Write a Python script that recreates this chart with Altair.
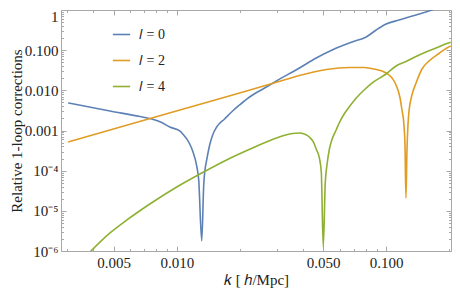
import altair as alt
import pandas as pd

# ---------------- data ----------------
series_names = ["𝑙 = 0", "𝑙 = 2", "𝑙 = 4"]
series_colors = ["#5E81B5", "#E19C24", "#8FB032"]

k_l0 = [0.00303, 0.00480, 0.00667, 0.00760, 0.00848, 0.00926, 0.01033, 0.01068, 0.01153, 0.01191,
        0.01245, 0.01273, 0.01316, 0.01345, 0.01360, 0.01390, 0.01436, 0.01484, 0.01551, 0.01693,
        0.01848, 0.01995, 0.02227, 0.02626, 0.02993, 0.03851, 0.04634, 0.05523, 0.06878, 0.08026,
        0.08961, 0.1000, 0.1153, 0.1389, 0.1653, 0.1886]
v_l0 = [0.00484, 0.00306, 0.00223, 0.00194, 0.00158, 0.00122, 0.000973, 0.000819, 0.000462, 0.000309,
        0.000131, 0.0000587, 0.00000178, 0.000044, 0.0000927, 0.000185, 0.000436, 0.000773, 0.00122, 0.00194,
        0.00306, 0.00432, 0.00683, 0.01143, 0.0171, 0.0360, 0.0638, 0.101, 0.160, 0.213,
        0.318, 0.448, 0.564, 0.751, 1.0, 1.3]

k_l2 = [0.00303, 0.00760, 0.01848, 0.02993, 0.03851, 0.05176, 0.06658, 0.07845, 0.08760, 0.1000,
        0.1067, 0.1115, 0.1165, 0.1190, 0.1216, 0.1230, 0.1243, 0.1257, 0.1271, 0.1284,
        0.1328, 0.1389, 0.1483, 0.1602, 0.1788, 0.1950, 0.2035]
v_l2 = [0.000518, 0.00205, 0.00766, 0.0158, 0.0234, 0.0330, 0.0371, 0.0371, 0.0340, 0.0270,
        0.0203, 0.0136, 0.00645, 0.00324, 0.00137, 0.000436, 0.0000209, 0.000327, 0.00137, 0.00289,
        0.00766, 0.0152, 0.0340, 0.0537, 0.0827, 0.113, 0.127]

k_l4 = [0.00369, 0.00480, 0.00578, 0.00769, 0.0100, 0.01316, 0.01729, 0.02301, 0.02993, 0.03566,
        0.03851, 0.04066, 0.04298, 0.04490, 0.04634, 0.04797, 0.04900, 0.05007, 0.05118, 0.05231,
        0.05346, 0.05523, 0.05770, 0.05966, 0.06301, 0.06658, 0.07197, 0.07845, 0.08553, 0.1000,
        0.1115, 0.1243, 0.1389, 0.1550, 0.1731, 0.1950, 0.2035]
v_l4 = [0.000000752, 0.00000281, 0.00000592, 0.0000166, 0.0000392, 0.0000875, 0.000185, 0.000367, 0.000652, 0.000843,
        0.000867, 0.000819, 0.000689, 0.000518, 0.000347, 0.000207, 0.0000927, 0.00000126, 0.0000493, 0.000155,
        0.000327, 0.000615, 0.00103, 0.00154, 0.00258, 0.00385, 0.00645, 0.0102, 0.0152, 0.0255,
        0.0404, 0.0522, 0.0695, 0.0900, 0.113, 0.147, 0.158]

x_domain = [0.0028, 0.204]
y_domain = [1e-6, 1.0]

x_major = [0.005, 0.01, 0.05, 0.1]
x_labels = ["0.005", "0.010", "0.050", "0.100"]
x_minor = [0.003, 0.004, 0.006, 0.007, 0.008, 0.009, 0.02, 0.03, 0.04,
           0.06, 0.07, 0.08, 0.09, 0.2]
y_major = [1e-6, 1e-5, 1e-4, 1e-3, 1e-2, 1e-1, 1.0]
y_labels = ["10⁻⁶", "10⁻⁵", "10⁻⁴", "0.001", "0.010", "0.100", "1"]
y_minor = [m * 10.0 ** e for e in range(-6, 0) for m in range(2, 10)]

x_title = "𝑘   [ ℎ/Mpc]"
y_title = "Relative 1-loop corrections"

# ---------------- build table ----------------
rows = []
for name, ks, vs in zip(series_names, [k_l0, k_l2, k_l4], [v_l0, v_l2, v_l4]):
    for k, v in zip(ks, vs):
        rows.append({"k": k, "v": v, "series": name})
df = pd.DataFrame(rows)

FONT = "Liberation Serif"
FRAME = "#a8a8a8"
TEXT = "#222222"
MAJ, MIN = 5, 2.5


def label_expr(vals, labs):
    e = ""
    for val, lab in zip(vals, labs):
        e += f"abs(datum.value/{val} - 1) < 0.01 ? '{lab}' : "
    return e + "''"


def xs():
    return alt.Scale(type="log", domain=x_domain, nice=False)


def ys():
    return alt.Scale(type="log", domain=y_domain, nice=False)


lines = alt.Chart(df).mark_line(clip=True, strokeWidth=1.6, interpolate="monotone").encode(
    x=alt.X("k:Q", scale=xs(), axis=alt.Axis(
        orient="bottom", values=x_major, labelExpr=label_expr(x_major, x_labels),
        ticks=False, domain=False, grid=False, labelFont=FONT, labelFontSize=15,
        labelColor=TEXT, labelPadding=4, title=x_title, titleFont=FONT,
        titleFontSize=15, titleFontWeight="normal", titleColor=TEXT, titlePadding=2)),
    y=alt.Y("v:Q", scale=ys(), axis=alt.Axis(
        orient="left", values=y_major, labelExpr=label_expr(y_major, y_labels),
        ticks=False, domain=False, grid=False, labelFont=FONT, labelFontSize=15,
        labelColor=TEXT, labelPadding=3,
        labelOffset={"condition": {"test": "datum.value > 0.5", "value": 6}, "value": 0},
        title=y_title, titleFont=FONT,
        titleFontSize=15, titleFontWeight="normal", titleColor=TEXT, titlePadding=0)),
    color=alt.Color("series:N", scale=alt.Scale(domain=series_names, range=series_colors),
                    legend=alt.Legend(orient="none", legendX=51, legendY=15, title=None,
                                      symbolType="stroke", symbolSize=300, symbolStrokeWidth=1.6,
                                      labelFont=FONT, labelFontSize=14, labelColor=TEXT,
                                      labelOffset=8, rowPadding=9, padding=0)),
)


def tick_layer(channel, orient, values, size):
    ax = alt.Axis(orient=orient, values=values, labels=False, domain=False, grid=False,
                  ticks=True, tickSize=size, offset=-size, tickColor=FRAME, tickWidth=1,
                  title=None)
    if channel == "x":
        enc = dict(x=alt.X("k:Q", scale=xs(), axis=ax), y=alt.Y("v:Q", scale=ys(), axis=None))
    else:
        enc = dict(x=alt.X("k:Q", scale=xs(), axis=None), y=alt.Y("v:Q", scale=ys(), axis=ax))
    return alt.Chart(df).mark_point(opacity=0, clip=True).encode(**enc)


layers = [lines]
for orient in ["bottom", "top"]:
    layers.append(tick_layer("x", orient, x_major, MAJ))
    layers.append(tick_layer("x", orient, x_minor, MIN))
for orient in ["left", "right"]:
    layers.append(tick_layer("y", orient, y_major, MAJ))
    layers.append(tick_layer("y", orient, y_minor, MIN))

chart = alt.layer(*layers).resolve_axis(x="independent", y="independent").properties(
    width=390, height=241,
    padding={"left": 53, "top": 2, "right": 1, "bottom": 37},
    autosize=alt.AutoSizeParams(type="none"),
).configure_view(stroke=FRAME, strokeWidth=1)

chart.save("out.html", embed_options={"renderer": "svg", "actions": False})
